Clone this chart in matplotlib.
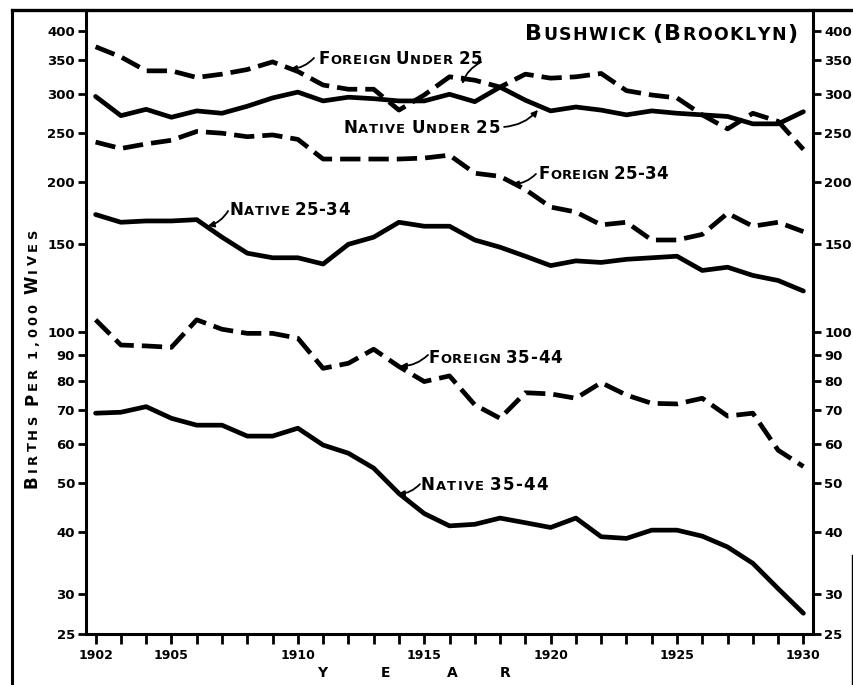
import matplotlib
matplotlib.use("Agg")
import matplotlib.pyplot as plt
import matplotlib.transforms as mtransforms
from matplotlib.lines import Line2D
from matplotlib.ticker import FixedLocator, FixedFormatter, NullLocator
import math

# ---------------- data ----------------
years = list(range(1902, 1931))
foreign_under25 = [372, 355, 333, 333, 323, 328, 335, 347, 332, 312, 306, 306, 278, 298, 324,
                   319, 309, 328, 322, 324, 329, 304, 298, 294, 272, 255, 274, 264, 232]
native_under25 = [296, 271, 279, 269, 277, 274, 283, 294, 302, 290, 295, 293, 290, 290, 299,
                  289, 309, 291, 277, 282, 278, 272, 277, 274, 272, 270, 261, 261, 276]
foreign_25_34 = [240, 233, 238, 242, 252, 250, 246, 248, 243, 222, 222, 222, 222, 223, 226,
                 208, 205, 193, 178, 174, 164, 166, 153, 153, 157, 173, 163, 166, 159]
native_25_34 = [172, 166, 167, 167, 168, 155, 144, 141, 141, 137, 150, 155, 166, 163, 163,
                153, 148, 142, 136, 139, 138, 140, 141, 142, 133, 135, 130, 127, 121]
foreign_35_44 = [106, 94.4, 94, 93.4, 106, 101.5, 99.6, 99.6, 97.4, 84.8, 86.8, 92.6, 85.5, 79.8, 81.9,
                 71.7, 67.4, 75.8, 75.4, 73.9, 79.4, 75.0, 72.2, 72.0, 73.9, 68.1, 69.0, 58.2, 54.0]
native_35_44 = [69.0, 69.3, 71.1, 67.4, 65.3, 65.3, 62.1, 62.1, 64.4, 59.6, 57.4, 53.6, 47.7, 43.5, 41.1,
                41.4, 42.6, 41.7, 40.8, 42.6, 39.1, 38.8, 40.3, 40.3, 39.2, 37.3, 34.6, 30.8, 27.5]

y_ticks = [25, 30, 40, 50, 60, 70, 80, 90, 100, 150, 200, 250, 300, 350, 400]
x_labelled = [1902, 1905, 1910, 1915, 1920, 1925, 1930]

title = "BUSHWICK (BROOKLYN)"
ylabel = "BIRTHS PER 1,000 WIVES"
xlabel = "YEAR"

# ---------------- figure ----------------
W, H = 854, 685
fig = plt.figure(figsize=(W / 100, H / 100), dpi=100)
fig.patch.set_facecolor("white")
ax = fig.add_axes([86 / W, 1 - 634 / H, (813 - 86) / W, (634 - 10) / H])
ax.set_yscale("log")
ax.set_ylim(25, 440.5)
ax.set_xlim(1901.62, 1930.38)

dash = (0, (4.3, 1.7))
LW = 3.4
series = [
    (foreign_under25, dash),
    (native_under25, "-"),
    (foreign_25_34, dash),
    (native_25_34, "-"),
    (foreign_35_44, dash),
    (native_35_44, "-"),
]
for vals, ls in series:
    ax.plot(years, vals, color="black", lw=LW, ls=ls, solid_joinstyle="round",
            solid_capstyle="round", dash_capstyle="butt", dash_joinstyle="round")

# spines & ticks
for s in ["left", "right", "bottom"]:
    ax.spines[s].set_linewidth(2.2)
ax.spines["top"].set_visible(False)

ax.yaxis.set_major_locator(FixedLocator(y_ticks))
ax.yaxis.set_major_formatter(FixedFormatter([str(v) for v in y_ticks]))
ax.yaxis.set_minor_locator(NullLocator())
ax.tick_params(axis="y", which="major", left=True, right=True, labelleft=True, labelright=True,
               direction="out", length=6, width=2, pad=2, labelsize=9.5)
ax.set_xticks(years)
ax.set_xticklabels([str(y) if y in x_labelled else "" for y in years])
ax.xaxis.set_minor_locator(NullLocator())
ax.tick_params(axis="x", which="major", direction="out", length=7, width=2, pad=4, labelsize=9)
for t in ax.yaxis.get_major_ticks():
    t.label1.set_fontweight("bold")
    t.label2.set_fontweight("bold")
for t in ax.xaxis.get_major_ticks():
    t.label1.set_fontweight("bold")

# outer frame lines
fig.add_artist(Line2D([12 / W, 1.0], [1 - 10 / H, 1 - 10 / H], color="black", lw=2.4,
                      transform=fig.transFigure))
fig.add_artist(Line2D([12 / W, 12 / W], [0, 1 - 10 / H], color="black", lw=2.2,
                      transform=fig.transFigure))
fig.add_artist(Line2D([852 / W, 852 / W], [0, 1 - 555 / H], color="black", lw=1.0,
                      transform=fig.transFigure))

renderer = fig.canvas.get_renderer()


def spaced_text(pieces, x, y, transform, target, rotation=0, weight="bold"):
    chars = []
    for s, size in pieces:
        for ch in s:
            chars.append((ch, size))
    widths = []
    for ch, size in chars:
        if ch == " ":
            widths.append(0.3 * size * 100 / 72)
        else:
            t = fig.text(0, 0, ch, fontsize=size, fontweight=weight)
            widths.append(t.get_window_extent(renderer).width)
            t.remove()
    track = (target - sum(widths)) / max(len(chars) - 1, 1)
    c, s_ = math.cos(math.radians(rotation)), math.sin(math.radians(rotation))
    pos = 0.0
    for (ch, size), w in zip(chars, widths):
        if ch != " ":
            tr = mtransforms.offset_copy(transform, fig=fig, x=pos * c, y=pos * s_, units="dots")
            fig.text(x, y, ch, fontsize=size, fontweight=weight, transform=tr,
                     rotation=rotation, rotation_mode="anchor", ha="left", va="baseline")
        pos += w + track


BIG, SMALL = 12, 9.4

# title (axes fraction)
spaced_text([("B", 16), ("USHWICK", 12.5), (" ", 12.5), ("(", 16), ("B", 16),
             ("ROOKLYN", 12.5), (")", 16)],
            (525 - 86) / 727, (634 - 40) / 624, ax.transAxes, 272)

# y label
spaced_text([("B", BIG), ("IRTHS", SMALL), (" ", SMALL), ("P", BIG), ("ER", SMALL), (" ", SMALL),
             ("1,000", SMALL), (" ", SMALL), ("W", BIG), ("IVES", SMALL)],
            37, H - 488, mtransforms.IdentityTransform(), 258, rotation=90)

# x label
for ch, xp in zip(xlabel, [322, 386, 452, 505]):
    fig.text(xp / W, 1 - 673 / H, ch, fontsize=10, fontweight="bold", ha="center", va="center")

# series labels: (pieces, x_year, baseline_value, target_width_px)
labels = [
    ([("F", BIG), ("OREIGN", SMALL), (" ", SMALL), ("U", BIG), ("NDER", SMALL), (" ", SMALL), ("25", BIG)],
     1910.80, 343.6, 164),
    ([("N", BIG), ("ATIVE", SMALL), (" ", SMALL), ("U", BIG), ("NDER", SMALL), (" ", SMALL), ("25", BIG)],
     1911.79, 250.3, 157),
    ([("F", BIG), ("OREIGN", SMALL), (" ", SMALL), ("25-34", BIG)], 1919.51, 202.5, 130),
    ([("N", BIG), ("ATIVE", SMALL), (" ", SMALL), ("25-34", BIG)], 1907.31, 171.7, 120),
    ([("F", BIG), ("OREIGN", SMALL), (" ", SMALL), ("35-44", BIG)], 1915.15, 86.9, 134),
    ([("N", BIG), ("ATIVE", SMALL), (" ", SMALL), ("35-44", BIG)], 1914.87, 48.5, 127),
]
for pieces, xv, yv, tw in labels:
    spaced_text(pieces, xv, yv, ax.transData, tw)

# leader arrows: (from, to) in data coords
arrows = [
    ((1910.64, 353.3), (1909.69, 336.0), -0.2),
    ((1917.25, 346.8), (1916.50, 313.5), 0.2),
    ((1918.16, 257.3), (1919.50, 278.2), 0.2),
    ((1919.42, 207.3), (1918.47, 197.9), -0.2),
    ((1907.24, 174.8), (1906.44, 163.2), -0.2),
    ((1915.15, 90.2), (1914.04, 85.7), -0.2),
    ((1914.83, 49.8), (1913.96, 47.6), -0.2),
]
for (x0, y0), (x1, y1), rad in arrows:
    ax.annotate("", xy=(x1, y1), xytext=(x0, y0),
                arrowprops=dict(arrowstyle="-|>", color="black", lw=1.3, mutation_scale=9,
                                shrinkA=0, shrinkB=0, connectionstyle=f"arc3,rad={rad}"))

fig.savefig("out.png", dpi=100, facecolor="white")
